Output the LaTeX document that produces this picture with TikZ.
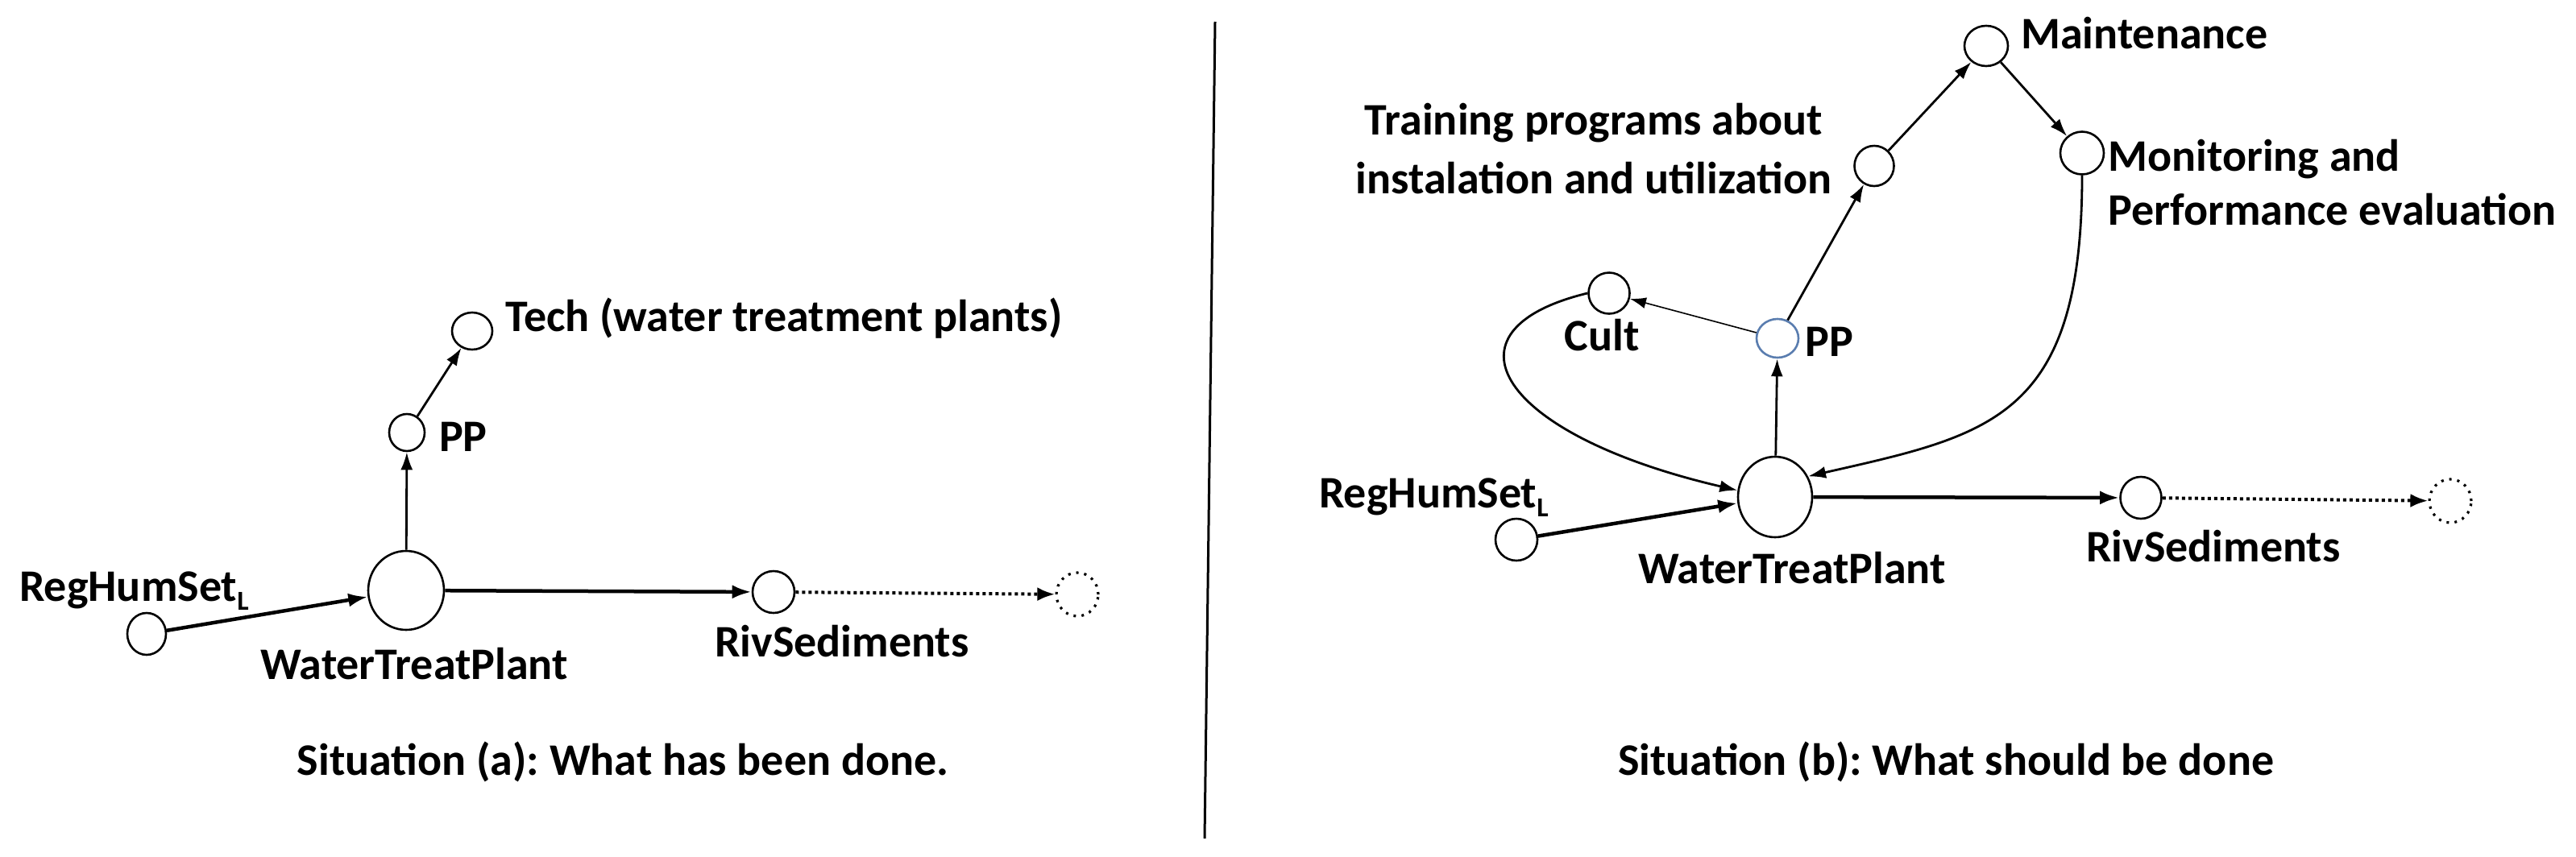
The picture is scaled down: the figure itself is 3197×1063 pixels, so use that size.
\documentclass[tikz,border=0pt]{standalone}
\usepackage{fontspec}
\setmainfont{Carlito}
\usetikzlibrary{shapes.geometric,arrows.meta}
\definecolor{ppblue}{RGB}{90,125,175}
\tikzset{
  circ/.style={ellipse,draw,line width=2.6pt,inner sep=0pt,fill=white},
  dotcirc/.style={circ,line width=3.2pt,dash pattern=on 3pt off 7pt},
  lab/.style={inner sep=0pt,font=\fontsize{56}{66}\selectfont\bfseries},
  arr/.style={line width=2.8pt,-{Latex[length=22pt,width=15pt]}},
  tarr/.style={line width=4.5pt,-{Latex[length=24pt,width=17pt]}},
  thinarr/.style={line width=1.6pt,-{Latex[length=20pt,width=14pt]}},
  dotarr/.style={line width=4pt,dash pattern=on 4pt off 4pt,-{Latex[length=22pt,width=17pt]}},
}
\newcommand{\subL}{\raisebox{-11pt}{\fontsize{34}{34}\selectfont L}}
\begin{document}
\frenchspacing
\begin{tikzpicture}[x=1pt,y=-1pt]
\useasboundingbox[fill=white] (0,0) rectangle (3197,1063);
% divider
\draw[line width=3pt] (1508,27) -- (1495,1041);
% ===== Situation (a)
\node[circ,minimum width=48pt,minimum height=52pt] (rhA) at (182,787) {};
\node[circ,minimum width=94pt,minimum height=98pt] (wtpA) at (504,733) {};
\node[circ,minimum width=44pt,minimum height=46pt] (ppA) at (505,537) {};
\node[circ,minimum width=50pt,minimum height=46pt] (techA) at (586,411) {};
\node[circ,minimum width=52pt,minimum height=52pt] (rivA) at (960,735) {};
\node[dotcirc,minimum width=52pt,minimum height=54pt] (dotA) at (1337,738) {};
\node[lab,anchor=base west] (lrhA) at (24,746) {RegHumSet\subL};
\node[lab,anchor=base] (lwtpA) at (514,843) {WaterTreatPlant};
\node[lab,anchor=base] (lrivA) at (1045,815) {RivSediments};
\node[lab,anchor=base west] (lppA) at (545,560) {PP};
\node[lab,anchor=base west] (ltechA) at (627,411) {Tech (water treatment plants)};
\node[lab,anchor=base] (capA) at (773,962) {Situation (a): What has been done.};
\draw[tarr] (rhA) -- (wtpA);
\draw[arr] (wtpA) -- (ppA);
\draw[arr] (ppA) -- (techA);
\draw[tarr] (wtpA) -- (rivA);
\draw[dotarr] (rivA) -- (dotA);
% ===== Situation (b)
\node[circ,minimum width=52pt,minimum height=52pt] (rhB) at (1882,670) {};
\node[circ,minimum width=92pt,minimum height=100pt] (wtpB) at (2203,617) {};
\node[circ,draw=ppblue,minimum width=52pt,minimum height=48pt] (ppB) at (2206,420) {};
\node[circ,minimum width=51pt,minimum height=51pt] (cultB) at (1997,364) {};
\node[circ,minimum width=49pt,minimum height=50pt] (trainB) at (2326,206) {};
\node[circ,minimum width=54pt,minimum height=50pt] (maintB) at (2465,57) {};
\node[circ,minimum width=54pt,minimum height=53pt] (monB) at (2584,190) {};
\node[circ,minimum width=51pt,minimum height=52pt] (rivB) at (2657,618) {};
\node[dotcirc,minimum width=52pt,minimum height=54pt] (dotB) at (3041,622) {};
\node[lab,anchor=base west] (lrhB) at (1637,630) {RegHumSet\subL};
\node[lab,anchor=base] (lwtpB) at (2224,724) {WaterTreatPlant};
\node[lab,anchor=base] (lrivB) at (2747,697) {RivSediments};
\node[lab,anchor=base west] (lppB) at (2240,442) {PP};
\node[lab,anchor=base] (lcultB) at (1988,435) {Cult};
\node[lab,anchor=base west] (lmaintB) at (2508,60) {Maintenance};
\node[lab,anchor=base] (ltrain1) at (1978,167) {Training programs about};
\node[lab,anchor=base] (ltrain2) at (1978,240) {instalation and utilization};
\node[lab,anchor=base west] (lmon1) at (2616,212) {Monitoring and};
\node[lab,anchor=base west] (lmon2) at (2616,279) {Performance evaluation};
\node[lab,anchor=base] (capB) at (2415,962) {Situation (b): What should be done};
\draw[tarr] (rhB) -- (wtpB);
\draw[tarr] (wtpB) -- (rivB);
\draw[dotarr] (rivB) -- (dotB);
\draw[arr] (wtpB) -- (ppB);
\draw[thinarr] (ppB) -- (cultB);
\draw[arr] (ppB) -- (trainB);
\draw[arr] (trainB) -- (maintB);
\draw[arr] (maintB) -- (monB);
\draw[arr] (monB.south) .. controls (2584,520) and (2470,540) .. (wtpB.32);
\draw[arr] (cultB.west) .. controls (1780,410) and (1860,540) .. (wtpB.170);
\end{tikzpicture}
\end{document}
